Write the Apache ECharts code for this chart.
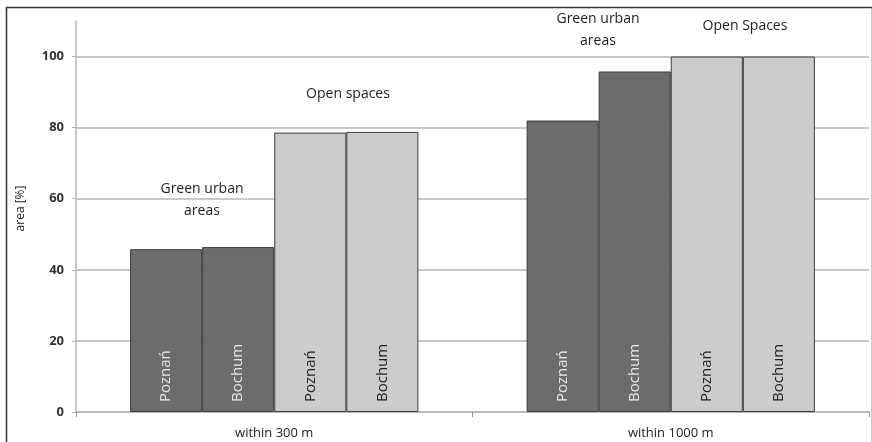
<!DOCTYPE html>
<html>
<head>
<meta charset="utf-8">
<script src="https://cdn.jsdelivr.net/npm/echarts@6/dist/echarts.min.js"></script>
<style>
  html, body { margin: 0; padding: 0; background: #fff; }
  #main { width: 872px; height: 442px; }
</style>
</head>
<body>
<div id="main"></div>
<script>
// categories and values
var categories = ['within 300 m', 'within 1000 m'];
var greenPoznan = [45.8, 82.0];
var greenBochum = [46.4, 95.8];
var openPoznan = [78.6, 100];
var openBochum = [78.8, 100];
var yTicks = [0, 20, 40, 60, 80, 100];

var darkColor = '#6b6c6e';
var lightColor = '#cbcccd';
var fontName = '"Open Sans", "Noto Sans", sans-serif';

function barSeries(name, data, color, textColor) {
    return {
        name: name,
        type: 'bar',
        data: data,
        barGap: '0%',
        barCategoryGap: '27.3%',
        itemStyle: {
            color: color,
            borderColor: '#3c3c3c',
            borderWidth: 1
        },
        label: {
            show: true,
            position: 'insideBottom',
            distance: 10,
            rotate: 90,
            align: 'left',
            verticalAlign: 'middle',
            formatter: name,
            color: textColor,
            fontSize: 15,
            fontFamily: fontName
        },
        emphasis: { disabled: true }
    };
}

var myChart = echarts.init(document.getElementById('main'));
var option = {
    animation: false,
    grid: {
        left: 76,
        right: 3,
        top: 21,
        bottom: 30
    },
    xAxis: {
        type: 'category',
        data: categories,
        axisLine: { lineStyle: { color: '#b9b3b3', width: 1.5 } },
        axisTick: { show: true, length: 5, lineStyle: { color: '#999' } },
        axisLabel: {
            color: '#222',
            fontSize: 13,
            fontFamily: fontName,
            margin: 15
        }
    },
    yAxis: {
        type: 'value',
        min: 0,
        max: 110,
        interval: 20,
        name: 'area [%]',
        nameLocation: 'middle',
        nameGap: 49,
        nameTextStyle: {
            color: '#222',
            fontSize: 12,
            fontFamily: fontName,
            padding: [0, 0, 0, 16]
        },
        axisLine: { show: true, lineStyle: { color: '#b9b3b3', width: 1.5 } },
        axisTick: { show: true, length: 4, lineStyle: { color: '#b9b3b3' } },
        axisLabel: {
            color: '#333',
            fontSize: 13,
            fontWeight: 'bold',
            fontFamily: fontName,
            margin: 12,
            showMaxLabel: false,
            formatter: function(v) {
                return yTicks.indexOf(v) >= 0 ? String(v) : '';
            }
        },
        splitLine: {
            show: true,
            showMaxLine: false,
            lineStyle: { color: '#bcb6b6', width: 1.5 }
        }
    },
    series: [
        barSeries('Poznań', greenPoznan, darkColor, '#e6e6e6'),
        barSeries('Bochum', greenBochum, darkColor, '#e6e6e6'),
        barSeries('Poznań', openPoznan, lightColor, '#1e1e1e'),
        barSeries('Bochum', openBochum, lightColor, '#1e1e1e')
    ],
    graphic: [
        {
            type: 'rect',
            left: 4,
            top: 5,
            silent: true,
            shape: { width: 866, height: 460 },
            style: { fill: 'none', stroke: '#333', lineWidth: 1.5 }
        },
        {
            type: 'text',
            x: 202,
            y: 200,
            style: {
                text: 'Green urban\nareas',
                align: 'center',
                verticalAlign: 'middle',
                lineHeight: 22,
                fill: '#1e1e1e',
                fontSize: 14,
                fontFamily: fontName
            }
        },
        {
            type: 'text',
            x: 348,
            y: 94,
            style: {
                text: 'Open spaces',
                align: 'center',
                verticalAlign: 'middle',
                fill: '#1e1e1e',
                fontSize: 14,
                fontFamily: fontName
            }
        },
        {
            type: 'text',
            x: 598,
            y: 30,
            style: {
                text: 'Green urban\nareas',
                align: 'center',
                verticalAlign: 'middle',
                lineHeight: 22,
                fill: '#1e1e1e',
                fontSize: 14,
                fontFamily: fontName
            }
        },
        {
            type: 'text',
            x: 745,
            y: 26,
            style: {
                text: 'Open Spaces',
                align: 'center',
                verticalAlign: 'middle',
                fill: '#1e1e1e',
                fontSize: 14,
                fontFamily: fontName
            }
        }
    ]
};

myChart.setOption(option);
</script>
</body>
</html>
